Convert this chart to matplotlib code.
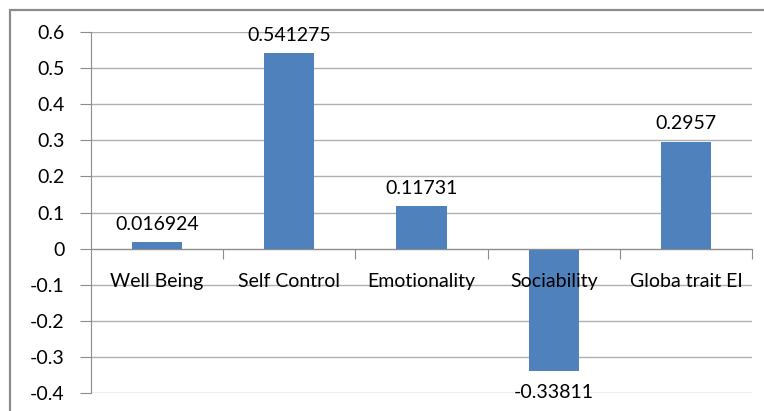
import matplotlib.pyplot as plt
from matplotlib.patches import Rectangle

categories = ['Well Being', 'Self Control', 'Emotionality', 'Sociability', 'Globa trait EI']
values = [0.016924, 0.541275, 0.11731, -0.33811, 0.2957]
labels = ['0.016924', '0.541275', '0.11731', '-0.33811', '0.2957']
yticks = [0.6, 0.5, 0.4, 0.3, 0.2, 0.1, 0, -0.1, -0.2, -0.3, -0.4]

plt.rcParams['font.family'] = ['Lato', 'DejaVu Sans']
fs = 14

fig = plt.figure(figsize=(7.64, 4.11), dpi=100)
# outer chart frame (cut off at right and bottom)
fig.patches.append(Rectangle((10/764, -0.1), 1.2, 1 - 10/411 + 0.1, transform=fig.transFigure,
                             fill=False, edgecolor='#8c8c8c', linewidth=1.6))

ax = fig.add_axes([91/764, 1 - 393/411, (752 - 91)/764, (393 - 32)/411])
x = list(range(len(categories)))
ax.bar(x, values, width=0.38, color='#4F81BD', zorder=3)

ax.set_xlim(-0.5, len(categories) - 0.5)
ax.set_ylim(-0.4, 0.6)
ax.set_yticks(yticks)
ax.set_yticklabels([('%g' % t) for t in yticks], fontsize=fs)
ax.grid(axis='y', color='#b0b0b0', linewidth=1, zorder=0)

for s in ['top', 'right']:
    ax.spines[s].set_visible(False)
ax.spines['left'].set_color('#8c8c8c')
ax.spines['bottom'].set_color('#8c8c8c')
ax.spines['bottom'].set_position(('data', 0))
ax.spines['bottom'].set_zorder(4)
ax.tick_params(axis='y', length=8, color='#8c8c8c', pad=11)

ax.set_xticks([i + 0.5 for i in x])
ax.set_xticklabels([])
ax.tick_params(axis='x', length=7, color='#8c8c8c', direction='out')

# category labels drawn as text so they sit on top of the bars
for xi, cat in zip(x, categories):
    ax.text(xi, -0.091, cat, ha='center', va='center', fontsize=fs, zorder=5)

for xi, v, lab in zip(x, values, labels):
    if v >= 0:
        ax.text(xi, v + 0.05, lab, ha='center', va='center', fontsize=fs, zorder=5)
    else:
        ax.text(xi, v - 0.06, lab, ha='center', va='center', fontsize=fs, zorder=5)

fig.savefig('out.png', dpi=100)
